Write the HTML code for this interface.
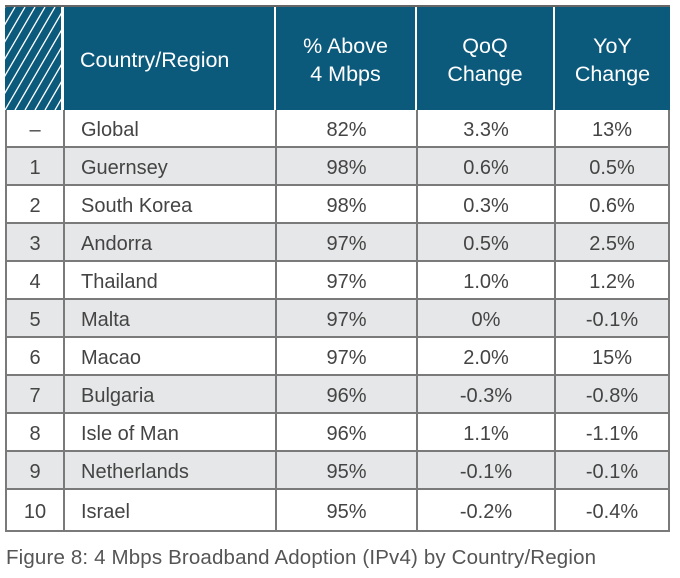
<!DOCTYPE html>
<html><head><meta charset="utf-8"><style>
body{margin:0;width:680px;height:578px;background:#fff;font-family:"Liberation Sans",sans-serif;position:relative;overflow:hidden}
.hd{position:absolute;top:7px;height:103px;background:#0b5a7c;color:#fff;font-size:21.5px;display:flex;align-items:center;justify-content:center;text-align:center;line-height:28px;padding-top:3px;box-sizing:border-box}
.row{position:absolute;left:5px;width:665px;border-bottom:2px solid #7a7a7a;box-sizing:border-box}
.c{position:absolute;top:0;height:100%;display:flex;align-items:center;justify-content:center;font-size:20px;color:#444;border-left:2px solid #7a7a7a;box-sizing:border-box;padding-top:5px}
.g{background:#e6e7e8}
</style></head><body>
<svg style="position:absolute;left:5px;top:7px" width="58" height="103">
<rect width="58" height="103" fill="#0b5a7c"/>
<g stroke="#fff" stroke-width="1.3">
<line x1="-60" y1="103" x2="0" y2="0"/><line x1="-50" y1="103" x2="10" y2="0"/><line x1="-40" y1="103" x2="20" y2="0"/><line x1="-30" y1="103" x2="30" y2="0"/><line x1="-20" y1="103" x2="40" y2="0"/><line x1="-10" y1="103" x2="50" y2="0"/><line x1="0" y1="103" x2="60" y2="0"/><line x1="10" y1="103" x2="70" y2="0"/><line x1="20" y1="103" x2="80" y2="0"/><line x1="30" y1="103" x2="90" y2="0"/><line x1="40" y1="103" x2="100" y2="0"/><line x1="50" y1="103" x2="110" y2="0"/>
</g>
<line x1="57" y1="0" x2="57" y2="103" stroke="#fff" stroke-width="2"/>
</svg>
<div style="position:absolute;left:5px;top:5px;width:665px;height:2px;background:#666"></div>
<div class="hd" style="left:64px;width:210px;justify-content:flex-start;padding-left:16px">Country/Region</div>
<div class="hd" style="left:276px;width:139px">% Above<br>4 Mbps</div>
<div class="hd" style="left:417px;width:136px">QoQ<br>Change</div>
<div class="hd" style="left:555px;width:115px">YoY<br>Change</div>
<div id="rows"></div>
<div style="position:absolute;left:6px;top:546px;font-size:20.5px;color:#555;letter-spacing:0.15px">Figure 8: 4 Mbps Broadband Adoption (IPv4) by Country/Region</div>
<script>
var d=[["–","Global","82%","3.3%","13%"],["1","Guernsey","98%","0.6%","0.5%"],["2","South Korea","98%","0.3%","0.6%"],["3","Andorra","97%","0.5%","2.5%"],["4","Thailand","97%","1.0%","1.2%"],["5","Malta","97%","0%","-0.1%"],["6","Macao","97%","2.0%","15%"],["7","Bulgaria","96%","-0.3%","-0.8%"],["8","Isle of Man","96%","1.1%","-1.1%"],["9","Netherlands","95%","-0.1%","-0.1%"],["10","Israel","95%","-0.2%","-0.4%"]];
var cols=[[0,58],[58,212],[270,141],[411,138],[549,116]];
var h="";
d.forEach(function(r,i){var top=110+i*38,ht=i==10?42:38;
h+='<div class="row'+(i%2?' g':'')+'" style="top:'+top+'px;height:'+ht+'px">';
r.forEach(function(t,j){var s='left:'+cols[j][0]+'px;width:'+cols[j][1]+'px;';if(j==1)s+='justify-content:flex-start;padding-left:16px;';if(j==4)s+='border-right:2px solid #7a7a7a;';
h+='<div class="c" style="'+s+'">'+t+'</div>';});h+='</div>';});
document.getElementById("rows").innerHTML=h;
</script>
</body></html>
